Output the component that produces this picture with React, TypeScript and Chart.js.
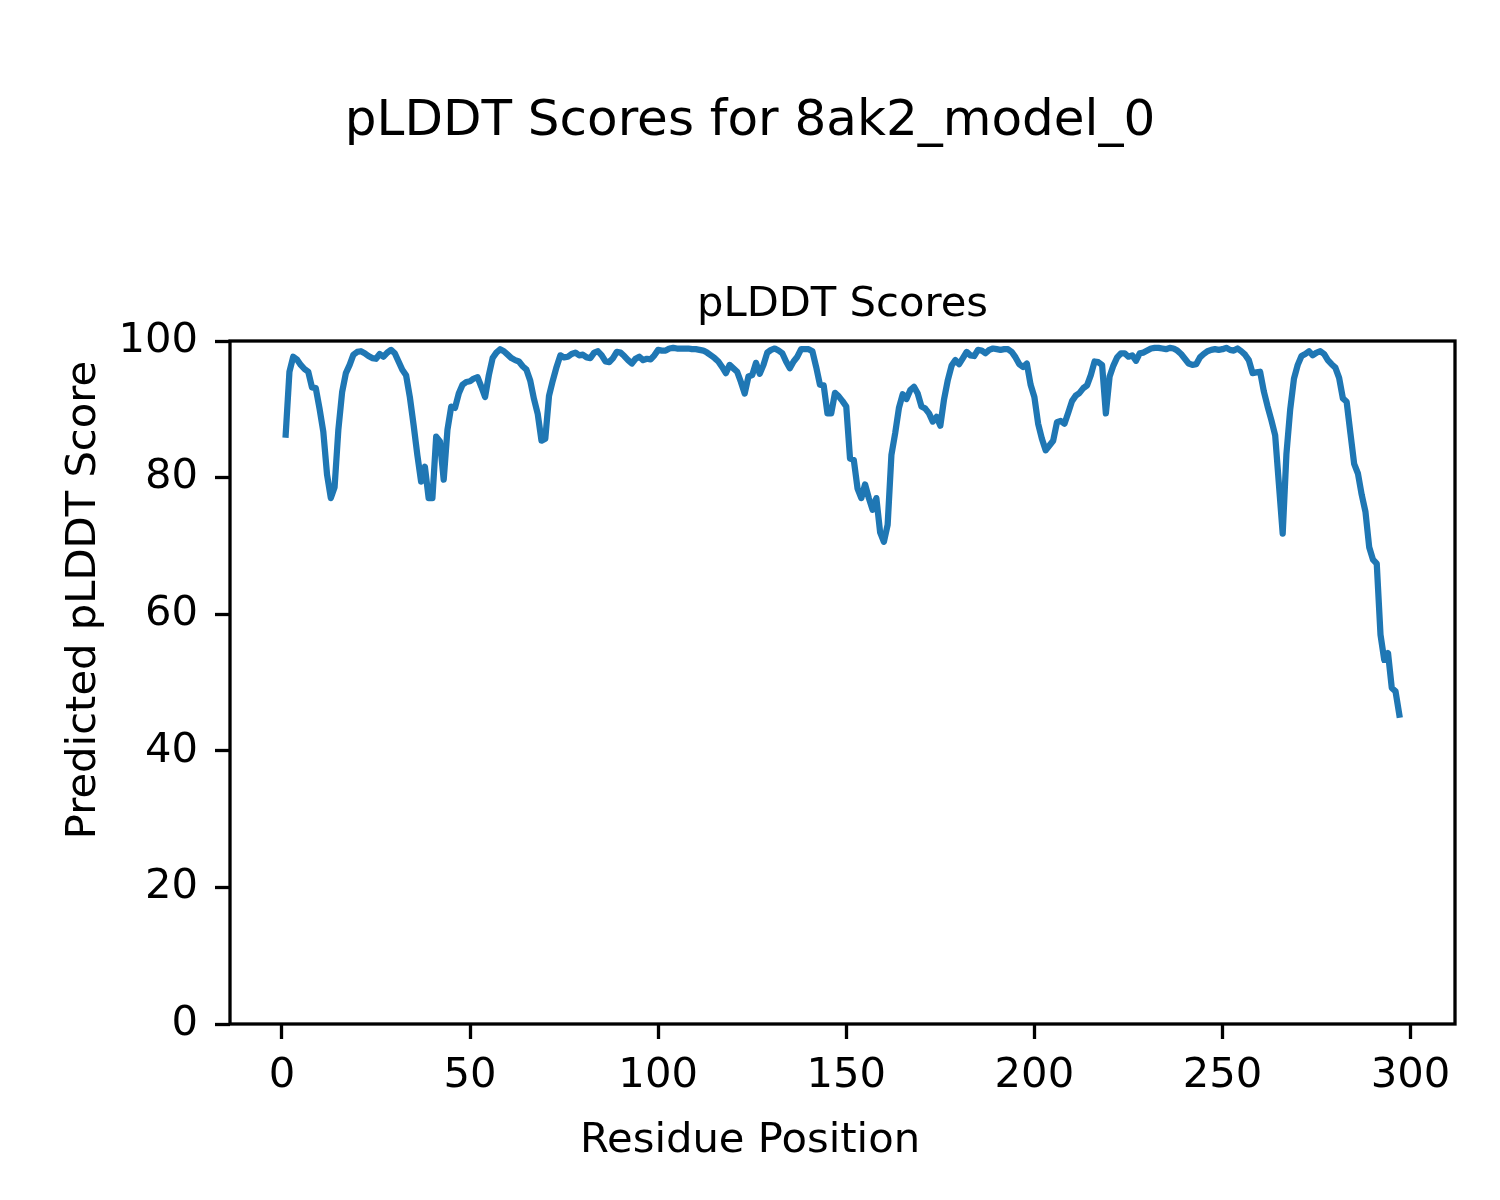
import React, { useEffect, useRef } from "react";
import { Chart, registerables } from "chart.js";

Chart.register(...registerables);

// Predicted pLDDT per residue (residue 1 .. 297)
const plddt: number[] = [
  86.3, 95.5, 97.7, 97.3, 96.5, 95.9, 95.5, 93.2, 93.1, 90.1,
  86.7, 80.4, 77.0, 78.6, 87.0, 92.5, 95.3, 96.5, 98.0, 98.4,
  98.5, 98.2, 97.8, 97.5, 97.4, 98.1, 97.7, 98.3, 98.7, 98.2,
  97.0, 95.8, 95.0, 91.8, 87.7, 83.3, 79.4, 81.6, 77.0, 77.0,
  86.0, 85.3, 79.7, 87.0, 90.4, 90.2, 92.3, 93.6, 94.0, 94.1,
  94.5, 94.7, 93.3, 91.8, 95.0, 97.5, 98.3, 98.8, 98.5, 98.0,
  97.5, 97.2, 97.0, 96.3, 95.8, 94.2, 91.5, 89.3, 85.4, 85.7,
  92.0, 94.2, 96.2, 97.9, 97.6, 97.7, 98.1, 98.3, 97.9, 98.0,
  97.6, 97.5, 98.3, 98.5, 97.9, 97.0, 96.9, 97.5, 98.4, 98.3,
  97.8, 97.2, 96.7, 97.4, 97.7, 97.2, 97.4, 97.3, 97.9, 98.7,
  98.6, 98.6, 98.9, 99.0, 98.9, 98.9, 98.9, 98.9, 98.8, 98.8,
  98.7, 98.6, 98.3, 97.9, 97.5, 97.0, 96.2, 95.3, 96.5, 96.0,
  95.5, 94.0, 92.3, 94.8, 95.0, 96.8, 95.2, 96.5, 98.3, 98.7,
  98.9, 98.6, 98.2, 97.0, 96.0, 97.0, 97.7, 98.8, 98.8, 98.8,
  98.5, 96.2, 93.6, 93.5, 89.4, 89.4, 92.4, 91.9, 91.2, 90.4,
  82.8, 82.6, 78.4, 77.0, 79.0, 77.0, 75.3, 77.0, 72.0, 70.6,
  73.1, 83.3, 86.5, 90.2, 92.2, 91.5, 92.8, 93.3, 92.3, 90.4,
  90.1, 89.4, 88.2, 88.9, 87.6, 91.5, 94.3, 96.4, 97.2, 96.6,
  97.5, 98.4, 97.9, 97.8, 98.7, 98.6, 98.2, 98.7, 98.9, 98.8,
  98.7, 98.8, 98.8, 98.4, 97.6, 96.6, 96.2, 96.7, 93.6, 91.8,
  87.9, 85.7, 84.0, 84.7, 85.4, 88.1, 88.3, 87.9, 89.5, 91.2,
  92.0, 92.4, 93.1, 93.5, 95.0, 97.0, 96.9, 96.5, 89.4, 94.8,
  96.4, 97.6, 98.2, 98.2, 97.7, 97.9, 97.1, 98.2, 98.3, 98.6,
  98.9, 99.0, 99.0, 98.9, 98.8, 99.0, 98.9, 98.6, 98.1, 97.4,
  96.7, 96.5, 96.6, 97.6, 98.1, 98.5, 98.7, 98.8, 98.7, 98.8,
  99.0, 98.7, 98.6, 98.9, 98.5, 98.0, 97.2, 95.3, 95.4, 95.5,
  92.6, 90.4, 88.4, 86.2, 79.0, 71.8, 83.5, 90.0, 94.5, 96.5,
  97.8, 98.1, 98.5, 97.9, 98.3, 98.5, 98.1, 97.2, 96.6, 96.1,
  94.6, 91.6, 91.1, 86.5, 82.0, 80.6, 77.5, 75.0, 69.8, 68.0,
  67.4, 57.0, 53.3, 54.3, 49.2, 48.7, 45.3,
];

// Residue positions (1-based index of each score)
const residues: number[] = plddt.map((_, i) => i + 1);

const xTicks: number[] = [0, 50, 100, 150, 200, 250, 300];
const yTicks: number[] = [0, 20, 40, 60, 80, 100];

const FIG_TITLE = "pLDDT Scores for 8ak2_model_0";
const AX_TITLE = "pLDDT Scores";
const X_LABEL = "Residue Position";
const Y_LABEL = "Predicted pLDDT Score";

const FONT = "'DejaVu Sans', 'Liberation Sans', sans-serif";
const LINE_COLOR = "#1f77b4";

const textPlugin = {
  id: "figureText",
  afterDraw(chart: any) {
    const { ctx, chartArea } = chart;
    ctx.save();
    // frame (spines)
    ctx.strokeStyle = "#000";
    ctx.lineWidth = 3.3;
    ctx.lineJoin = "miter";
    ctx.strokeRect(
      chartArea.left,
      chartArea.top,
      chartArea.right - chartArea.left,
      chartArea.bottom - chartArea.top
    );
    ctx.fillStyle = "#000";
    ctx.textBaseline = "alphabetic";
    ctx.textAlign = "center";
    // figure title
    ctx.font = `50px ${FONT}`;
    ctx.fillText(FIG_TITLE, 750, 135);
    // axes title
    ctx.font = `41.7px ${FONT}`;
    ctx.fillText(AX_TITLE, (chartArea.left + chartArea.right) / 2, 316);
    // figure x label
    ctx.fillText(X_LABEL, 750, 1152);
    // figure y label
    ctx.translate(95, 600);
    ctx.rotate(-Math.PI / 2);
    ctx.fillText(Y_LABEL, 0, 0);
    ctx.restore();
  },
};

export default function App() {
  const canvasRef = useRef<HTMLCanvasElement | null>(null);

  useEffect(() => {
    document.body.style.margin = "0";
    const canvas = canvasRef.current;
    if (!canvas) return;
    Chart.defaults.font.family = FONT;

    const points = residues.map((r, i) => ({ x: r, y: plddt[i] }));

    const chart = new Chart(canvas, {
      type: "line",
      data: {
        datasets: [
          {
            data: points,
            borderColor: LINE_COLOR,
            backgroundColor: LINE_COLOR,
            borderWidth: 6.25,
            pointRadius: 0,
            tension: 0,
            fill: false,
            borderJoinStyle: "round",
            borderCapStyle: "square",
          },
        ],
      },
      options: {
        responsive: false,
        animation: false,
        events: [],
        layout: { padding: { top: 341, right: 45, left: 0, bottom: 0 } },
        plugins: {
          legend: { display: false },
          tooltip: { enabled: false },
          title: { display: false },
        },
        scales: {
          x: {
            type: "linear",
            min: -13.8,
            max: 311.8,
            afterBuildTicks: (s: any) => {
              s.ticks = xTicks.map((v) => ({ value: v }));
            },
            afterFit: (s: any) => {
              s.height = 176;
            },
            border: { display: false },
            grid: {
              drawOnChartArea: false,
              drawTicks: true,
              tickLength: 15,
              tickWidth: 3.3,
              tickColor: "#000",
            },
            ticks: {
              color: "#000",
              font: { family: FONT, size: 41.7 },
              padding: 12,
              maxRotation: 0,
              autoSkip: false,
            },
          },
          y: {
            type: "linear",
            min: 0,
            max: 100,
            afterBuildTicks: (s: any) => {
              s.ticks = yTicks.map((v) => ({ value: v }));
            },
            afterFit: (s: any) => {
              s.width = 230;
            },
            border: { display: false },
            grid: {
              drawOnChartArea: false,
              drawTicks: true,
              tickLength: 15,
              tickWidth: 3.3,
              tickColor: "#000",
            },
            ticks: {
              color: "#000",
              font: { family: FONT, size: 41.7 },
              padding: 17,
              autoSkip: false,
            },
          },
        },
      },
      plugins: [textPlugin],
    } as any);

    return () => {
      chart.destroy();
    };
  }, []);

  return (
    <canvas
      ref={canvasRef}
      width={1500}
      height={1200}
      style={{ display: "block", width: 1500, height: 1200 }}
    />
  );
}
